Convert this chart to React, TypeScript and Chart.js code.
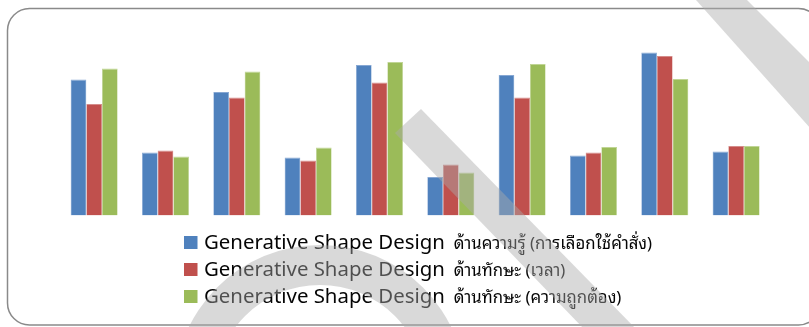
import { useEffect, useRef } from "react";
import { Chart, registerables } from "chart.js";

Chart.register(...registerables);

// Ten assessment items, three measures each
const categories = ["1", "2", "3", "4", "5", "6", "7", "8", "9", "10"];
const knowledgeScores = [136, 63, 123.5, 58, 150.5, 38.5, 140.5, 60, 163, 64];
const skillTimeScores = [111.5, 65, 118, 55, 133, 51, 118, 63, 159.5, 69.5];
const skillAccuracyScores = [147, 59, 144, 68, 153.5, 43, 151.5, 68.5, 136.5, 69.5];

const seriesTitle = "Generative Shape Design";
const seriesAspects = [
  "ด้านความรู้ (การเลือกใช้คำสั่ง)",
  "ด้านทักษะ (เวลา)",
  "ด้านทักษะ (ความถูกต้อง)",
];
const seriesColors = ["#4F81BD", "#C0504D", "#9BBB59"];
const seriesEdges = ["#86a7d3", "#d58c8a", "#c0d595"];

const TITLE_FONT = "20.4px 'Noto Sans', 'Open Sans', sans-serif";
const ASPECT_FONT = "16.8px 'Noto Sans Thai Looped', 'Leelawadee UI', Tahoma, 'Noto Sans Thai', 'Noto Sans', sans-serif";

// Rounded frame around the whole chart
const framePlugin = {
  id: "frame",
  beforeDraw(chart: Chart) {
    const ctx = chart.ctx;
    ctx.save();
    ctx.fillStyle = "#ffffff";
    ctx.fillRect(0, 0, chart.width, chart.height);
    ctx.beginPath();
    ctx.roundRect(7.5, 8.5, 813, 316.5, 22);
    ctx.lineWidth = 1.5;
    ctx.strokeStyle = "#8a8a8a";
    ctx.stroke();
    ctx.restore();
  },
};

// Stacked legend under the bars: square swatch, large title, smaller Thai aspect
const legendPlugin = {
  id: "stackedLegend",
  afterDraw(chart: Chart) {
    const ctx = chart.ctx;
    ctx.save();
    ctx.textBaseline = "alphabetic";
    ctx.textAlign = "left";
    chart.data.datasets.forEach((ds: any, i: number) => {
      const baseY = 248.5 + i * 27;
      ctx.fillStyle = ds.backgroundColor as string;
      ctx.fillRect(184, baseY - 12.5, 13.5, 13);
      ctx.fillStyle = "#050505";
      ctx.font = TITLE_FONT;
      ctx.fillText(seriesTitle, 204, baseY);
      const w = ctx.measureText(seriesTitle).width;
      ctx.font = ASPECT_FONT;
      ctx.fillText(seriesAspects[i], 204 + w + 9, baseY);
    });

    // grey diagonal bands and arch drawn over the whole card
    ctx.fillStyle = "rgba(170,170,170,0.45)";
    ctx.beginPath();
    ctx.moveTo(421, 109);
    ctx.lineTo(395, 133);
    ctx.lineTo(585, 330);
    ctx.lineTo(637, 330);
    ctx.closePath();
    ctx.fill();

    ctx.beginPath();
    ctx.moveTo(696, 0);
    ctx.lineTo(747, 0);
    ctx.lineTo(812, 65);
    ctx.lineTo(812, 130);
    ctx.closePath();
    ctx.fill();

    ctx.beginPath();
    ctx.arc(320, 391, 146, Math.PI, 2 * Math.PI);
    ctx.arc(320, 391, 106, 2 * Math.PI, Math.PI, true);
    ctx.closePath();
    ctx.fill();
    ctx.restore();
  },
};

export default function App() {
  const canvasRef = useRef<HTMLCanvasElement | null>(null);

  useEffect(() => {
    document.body.style.margin = "0";
    const canvas = canvasRef.current;
    if (!canvas) return;
    const data = [knowledgeScores, skillTimeScores, skillAccuracyScores];
    const chart = new Chart(canvas, {
      type: "bar",
      data: {
        labels: categories,
        datasets: data.map((values, i) => ({
          label: `${seriesTitle} ${seriesAspects[i]}`,
          data: values,
          backgroundColor: seriesColors[i],
          borderColor: seriesEdges[i],
          borderWidth: { top: 1, left: 0.6, right: 0.6, bottom: 0 },
          categoryPercentage: 0.659,
          barPercentage: 1,
        })),
      },
      options: {
        animation: false,
        responsive: true,
        maintainAspectRatio: false,
        devicePixelRatio: 1,
        layout: { padding: { left: 58.5, right: 37.2, top: 30, bottom: 111.5 } },
        scales: {
          x: { display: false, grid: { display: false } },
          y: { display: false, min: 0, max: 185.5, grid: { display: false } },
        },
        plugins: {
          legend: { display: false },
          tooltip: { enabled: false },
        },
      },
      plugins: [framePlugin, legendPlugin],
    });
    return () => chart.destroy();
  }, []);

  return (
    <div style={{ position: "relative", width: 809, height: 327 }}>
      <canvas ref={canvasRef} />
    </div>
  );
}
